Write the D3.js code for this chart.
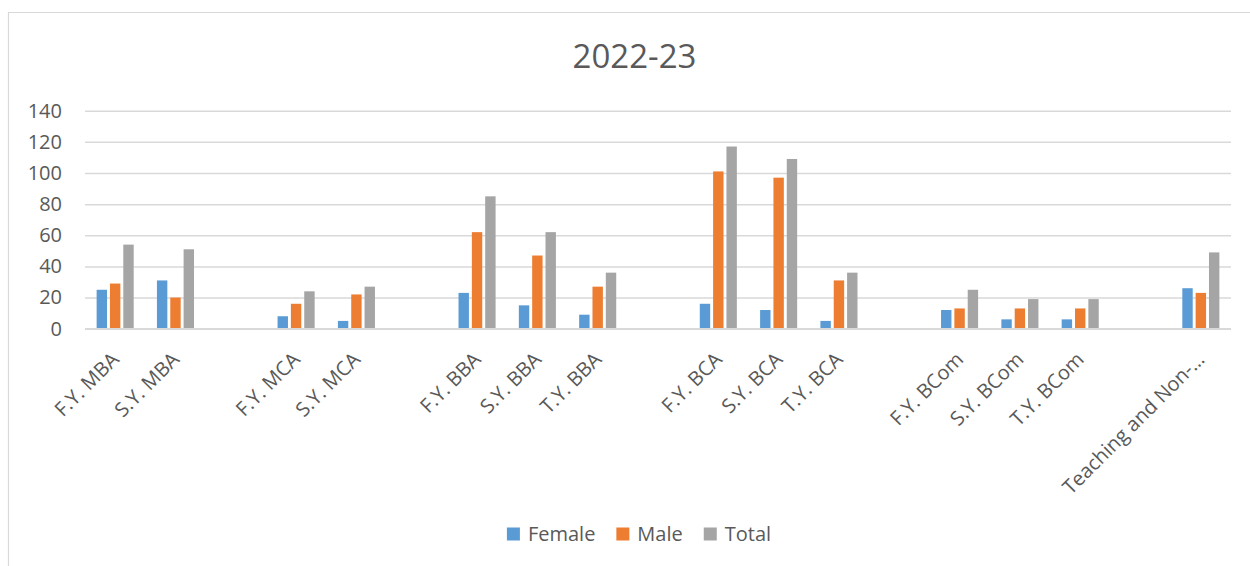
<!DOCTYPE html>
<meta charset="utf-8">
<style>
body { margin: 0; background: #fff; }
svg { display: block; }
text { font-family: 'Open Sans', 'Liberation Sans', sans-serif; fill: #595959; }
</style>
<body>
<svg width="1250" height="566"></svg>
<script src="https://d3js.org/d3.v7.min.js"></script>
<script>

// blank entries are the empty rows between course groups
var categories = ["F.Y. MBA", "S.Y. MBA", "", "F.Y. MCA", "S.Y. MCA", "",
                  "F.Y. BBA", "S.Y. BBA", "T.Y. BBA", "",
                  "F.Y. BCA", "S.Y. BCA", "T.Y. BCA", "",
                  "F.Y. BCom", "S.Y. BCom", "T.Y. BCom", "",
                  "Teaching and Non-\u2026"];
var female = [25, 31, null, 8, 5, null, 23, 15, 9, null, 16, 12, 5, null, 12, 6, 6, null, 26];
var male   = [29, 20, null, 16, 22, null, 62, 47, 27, null, 101, 97, 31, null, 13, 13, 13, null, 23];
var total  = [54, 51, null, 24, 27, null, 85, 62, 36, null, 117, 109, 36, null, 25, 19, 19, null, 49];
var seriesNames = ["Female", "Male", "Total"];
var seriesColors = ["#5B9BD5", "#ED7D31", "#A5A5A5"];
var yTicks = [0, 20, 40, 60, 80, 100, 120, 140];
var title = "2022-23";

var svg = d3.select("svg"),
    plotLeft = 85, plotRight = 1231, plotTop = 110.7, plotBottom = 328.7;

// chart area border (only left and top edges fall inside the window)
svg.append("path")
    .attr("d", "M8.5,566V12.5H1250")
    .attr("fill", "none")
    .attr("stroke", "#D9D9D9")
    .attr("stroke-width", 1.2);

svg.append("text")
    .attr("x", 634.5)
    .attr("y", 68)
    .attr("text-anchor", "middle")
    .style("font-size", "33px")
    .text(title);

var x = d3.scaleBand()
    .domain(d3.range(categories.length))
    .range([plotLeft, plotRight]);

var x1 = d3.scaleBand()
    .domain(seriesNames)
    .range([-20, 20])
    .paddingInner(0.22)
    .paddingOuter(0.11);

var y = d3.scaleLinear()
    .domain([0, 140])
    .range([plotBottom, plotTop]);

var yAxis = svg.append("g")
    .attr("transform", "translate(" + plotLeft + ",0)")
    .call(d3.axisLeft(y).tickValues(yTicks).tickSize(-(plotRight - plotLeft)).tickPadding(23));
yAxis.select(".domain").remove();
yAxis.selectAll("line").attr("stroke", "#D9D9D9").attr("stroke-width", 1.5);
yAxis.selectAll("text").style("font-size", "20px").attr("fill", "#595959");

var series = [female, male, total];
var groups = svg.append("g")
  .selectAll("g")
  .data(series)
  .join("g")
    .attr("fill", function(d, i) { return seriesColors[i]; });

groups.selectAll("rect")
  .data(function(d, i) {
    return d.map(function(v, j) { return {i: j, s: seriesNames[i], v: v}; })
            .filter(function(e) { return e.v !== null; });
  })
  .join("rect")
    .attr("x", function(d) { return x(d.i) + x.bandwidth() / 2 + x1(d.s); })
    .attr("width", x1.bandwidth())
    .attr("y", function(d) { return y(d.v); })
    .attr("height", function(d) { return y(0) - y(d.v); });

// x axis line and rotated labels
svg.append("line")
    .attr("x1", plotLeft).attr("x2", plotRight)
    .attr("y1", y(0)).attr("y2", y(0))
    .attr("stroke", "#D9D9D9").attr("stroke-width", 1.5);

var xAxis = svg.append("g")
    .attr("transform", "translate(0," + y(0) + ")")
    .call(d3.axisBottom(x).tickSize(0).tickFormat(function(i) { return categories[i]; }));
xAxis.select(".domain").remove();
xAxis.selectAll("text")
    .attr("x", 0).attr("y", 0).attr("dy", 0)
    .attr("text-anchor", "end")
    .attr("transform", "translate(5,32) rotate(-45)")
    .style("font-size", "20px")
    .attr("fill", "#595959");

// legend
var legend = svg.append("g");
var items = legend.selectAll("g")
  .data(seriesNames)
  .join("g");
items.append("rect")
    .attr("width", 13).attr("height", 13)
    .attr("y", 527.5)
    .attr("fill", function(d, i) { return seriesColors[i]; });
items.append("text")
    .attr("y", 541)
    .style("font-size", "20px")
    .text(function(d) { return d; });

var pos = 0, offsets = [];
items.each(function() {
  var w = d3.select(this).select("text").node().getComputedTextLength();
  offsets.push(pos);
  pos += 13 + 8 + w + 21;
});
pos -= 21;
var start = 639 - pos / 2;
items.attr("transform", function(d, i) { return "translate(" + (start + offsets[i]) + ",0)"; });
items.select("text").attr("x", 21);

</script>
</body>
